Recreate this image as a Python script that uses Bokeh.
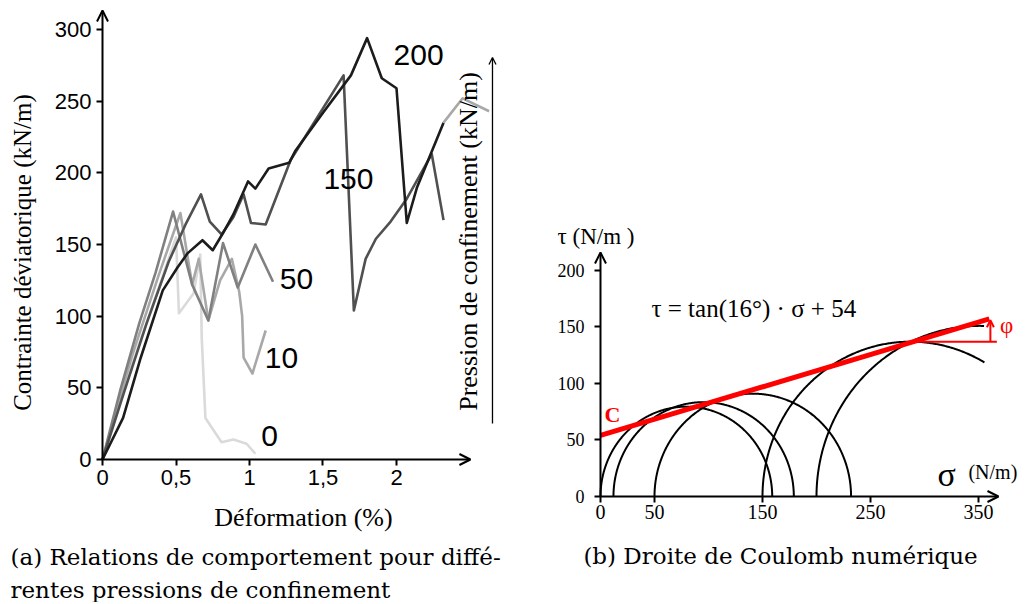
import numpy as np
from math import pi, tan, radians
from bokeh.plotting import figure
from bokeh.layouts import row
from bokeh.models import Label, Arrow, OpenHead, FixedTicker, Range1d
from bokeh.embed import file_html
from bokeh.resources import INLINE

# ---------------- Panel (a) data : strain (%) / deviatoric stress (kN/m) ----------------
strain_0 = [0, 0.20, 0.40, 0.50, 0.52, 0.62, 0.665, 0.675, 0.70, 0.81, 0.89, 0.98, 1.04]
stress_0 = [0, 66, 125, 155, 102, 116, 143, 85, 29, 12, 14, 11, 4]

strain_10 = [0, 0.20, 0.38, 0.53, 0.61, 0.655, 0.72, 0.80, 0.88, 0.93, 0.95, 0.96, 1.02, 1.11]
stress_10 = [0, 72, 128, 172, 122, 140, 97, 125, 140, 117, 100, 71, 60, 90]

strain_50 = [0, 0.12, 0.25, 0.36, 0.48, 0.61, 0.72, 0.82, 0.92, 1.04, 1.16]
stress_50 = [0, 48, 95, 130, 173, 122, 97, 151, 120, 150, 124]

strain_150 = [0, 0.15, 0.30, 0.45, 0.565, 0.67, 0.73, 0.81, 0.89, 0.96, 1.01, 1.11, 1.28,
              1.64, 1.71, 1.79, 1.86, 1.96, 2.07, 2.24, 2.32]
stress_150 = [0, 48, 95, 138, 164, 185, 166, 157, 169, 185, 165, 164, 209,
              268, 104, 140, 154, 166, 182, 213, 167]

strain_200 = [0, 0.14, 0.26, 0.41, 0.51, 0.58, 0.68, 0.75, 0.82, 0.89, 0.99, 1.04, 1.13,
              1.27, 1.31, 1.50, 1.69, 1.80, 1.90, 2.00, 2.07, 2.14, 2.32]
stress_200 = [0, 29, 71, 118, 134, 144, 153, 146, 158, 171, 194, 189, 203,
              207, 215, 242, 268, 294, 266, 259, 165, 190, 235]

tail_strain = [2.32, 2.45, 2.63]
tail_stress = [235, 252, 243]

curve_names = ["0", "10", "50", "150", "200"]
curve_colors = ["#dadada", "#a8a8a8", "#808080", "#505050", "#1c1c1c"]

a_xticks = [0, 0.5, 1, 1.5, 2]
a_xtick_labels = ["0", "0,5", "1", "1,5", "2"]
a_yticks = [0, 50, 100, 150, 200, 250, 300]

# ---------------- Panel (b) data : Mohr circles (N/m) ----------------
sigma3 = [0, 12, 50, 150, 200]
sigma1 = [159, 179, 232, 424, 502]
phi_deg = 16
cohesion = 54
line_sigma_end = 360
arc_sigma_max = 356
phi_ref_tau = 137
phi_ref_sigma_end = 367
phi_arrow_sigma = 361

b_xticks = [0, 50, 150, 250, 350]
b_yticks = [0, 50, 100, 150, 200]

SERIF = "Liberation Serif"
SANS = "Liberation Sans"
CAPTION = "DejaVu Serif"


def style_axes(p, font, xsize, ysize, xstandoff, ystandoff):
    p.grid.visible = False
    p.outline_line_color = None
    p.xaxis.fixed_location = 0
    p.yaxis.fixed_location = 0
    for ax in (p.xaxis[0], p.yaxis[0]):
        ax.axis_line_color = None
        ax.major_tick_line_color = "black"
        ax.major_tick_line_width = 2
        ax.major_tick_in = 0
        ax.major_tick_out = 6
        ax.minor_tick_line_color = None
        ax.major_label_text_font = font
        ax.major_label_text_color = "black"
    p.xaxis.major_label_text_font_size = xsize
    p.yaxis.major_label_text_font_size = ysize
    p.xaxis.major_label_standoff = xstandoff
    p.yaxis.major_label_standoff = ystandoff


def lab(p, x, y, text, font, size, align="center", baseline="middle", color="black", **kw):
    p.add_layout(Label(x=x, y=y, text=text, text_font=font, text_font_size=size,
                       text_align=align, text_baseline=baseline, text_color=color, **kw))


# ======================= Panel (a) =======================
pa = figure(width=530, height=602, x_range=Range1d(-0.6939, 2.9116), y_range=Range1d(-99.77, 320.24),
            output_backend="svg", toolbar_location=None,
            min_border_left=0, min_border_right=0, min_border_top=0, min_border_bottom=0)
style_axes(pa, SANS, "22px", "22px", 5, 5)
pa.xaxis.ticker = FixedTicker(ticks=a_xticks)
pa.xaxis.major_label_overrides = {t: l for t, l in zip(a_xticks, a_xtick_labels)}
pa.yaxis.ticker = FixedTicker(ticks=a_yticks)

series_a = [(strain_0, stress_0), (strain_10, stress_10), (strain_50, stress_50),
            (strain_150, stress_150), (strain_200, stress_200)]
for (xs, ys), c in zip(series_a, curve_colors):
    pa.line(xs, ys, line_color=c, line_width=2.6, line_join="round")
pa.line(tail_strain, tail_stress, line_color="#a8a8a8", line_width=2.6, line_join="round")

# axes with arrowheads
pa.add_layout(Arrow(x_start=0, y_start=0, x_end=0, y_end=313.3, line_width=2, line_color="black",
                    end=OpenHead(size=11, line_width=2, line_color="black")))
pa.add_layout(Arrow(x_start=0, y_start=0, x_end=2.503, y_end=0, line_width=2, line_color="black",
                    end=OpenHead(size=11, line_width=2, line_color="black")))
# confinement pressure arrow
pa.add_layout(Arrow(x_start=2.653, y_start=25.1, x_end=2.653, y_end=280.5, line_width=1.3,
                    line_color="black", end=OpenHead(size=7, line_width=1.3, line_color="black")))

label_pos = {"200": (2.15, 282.5), "150": (1.673, 195.4), "50": (1.32, 125.6),
             "10": (1.218, 70.5), "0": (1.136, 16.7)}
for name in curve_names:
    x, y = label_pos[name]
    lab(pa, x, y, name, SANS, "30px")

lab(pa, 1.367, -40.5, "Déformation (%)", SERIF, "26px")
lab(pa, -0.544, 144.4, "Contrainte déviatorique (kN/m)", SERIF, "25px", angle=pi / 2)
lab(pa, 2.49, 152.1, "Pression de confinement (kN/m)", SERIF, "26px", angle=pi / 2)
lab(pa, -0.626, -67.7, "(a) Relations de comportement pour diffé-", CAPTION, "23px", align="left")
lab(pa, -0.626, -91.2, "rentes pressions de confinement", CAPTION, "23px", align="left")

# ======================= Panel (b) =======================
pb = figure(width=502, height=602, x_range=Range1d(-64.81, 400.0), y_range=Range1d(-93.81, 438.94),
            output_backend="svg", toolbar_location=None,
            min_border_left=0, min_border_right=0, min_border_top=0, min_border_bottom=0)
style_axes(pb, SERIF, "20px", "18px", 3, 10)
pb.xaxis.ticker = FixedTicker(ticks=b_xticks)
pb.yaxis.ticker = FixedTicker(ticks=b_yticks)

# Mohr circles
arc_xs, arc_ys = [], []
theta = np.linspace(0, pi, 400)
for s3, s1 in zip(sigma3, sigma1):
    c = (s1 + s3) / 2.0
    r = (s1 - s3) / 2.0
    sx = c + r * np.cos(theta)
    sy = r * np.sin(theta)
    keep = sx <= arc_sigma_max
    arc_xs.append(list(sx[keep]))
    arc_ys.append(list(sy[keep]))
pb.multi_line(arc_xs, arc_ys, line_color="black", line_width=2)

# Coulomb line
tphi = tan(radians(phi_deg))
pb.line([0, line_sigma_end], [cohesion, cohesion + tphi * line_sigma_end],
        line_color="red", line_width=5)
sig_start = (phi_ref_tau - cohesion) / tphi
pb.line([sig_start, phi_ref_sigma_end], [phi_ref_tau, phi_ref_tau], line_color="red", line_width=2)
pb.add_layout(Arrow(x_start=phi_arrow_sigma, y_start=phi_ref_tau, x_end=phi_arrow_sigma,
                    y_end=cohesion + tphi * phi_arrow_sigma - 1.5, line_width=2, line_color="red",
                    end=OpenHead(size=7, line_width=2, line_color="red")))

# axes with arrowheads
pb.add_layout(Arrow(x_start=0, y_start=0, x_end=0, y_end=215.9, line_width=2, line_color="black",
                    end=OpenHead(size=11, line_width=2, line_color="black")))
pb.add_layout(Arrow(x_start=0, y_start=0, x_end=368.5, y_end=0, line_width=2, line_color="black",
                    end=OpenHead(size=11, line_width=2, line_color="black")))

lab(pb, -39.8, 230, "τ (N/m )", SERIF, "23px", align="left")
lab(pb, 47.2, 166.4, "τ = tan(16°) · σ + 54", SERIF, "25px", align="left")
lab(pb, 11, 72.6, "C", SERIF, "22px", text_font_style="bold", color="red")
lab(pb, 376, 151.3, "φ", SERIF, "23px", color="red")
lab(pb, 312, 19.5, "σ", SERIF, "34px", align="left", baseline="alphabetic")
lab(pb, 340.7, 21.3, "(N/m)", SERIF, "20px", align="left", baseline="alphabetic")
lab(pb, 166.7, -53.1, "(b) Droite de Coulomb numérique", CAPTION, "23px")

layout = row(pa, pb)
open("out.html", "w").write(file_html(layout, INLINE))
